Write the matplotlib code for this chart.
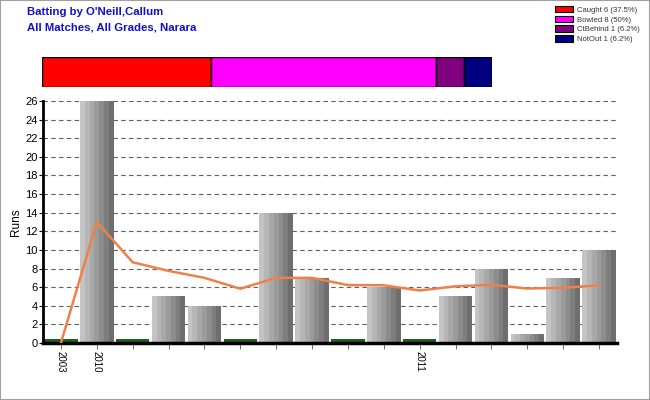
import matplotlib
matplotlib.use("Agg")
import matplotlib.pyplot as plt
from matplotlib.patches import Patch, Rectangle
import numpy as np

# ---- data ----
runs = [0, 26, 0, 5, 4, 0, 14, 7, 0, 6, 0, 5, 8, 1, 7, 10]
average = [0, 13, 8.67, 7.75, 7.0, 5.83, 7.0, 7.0, 6.22, 6.2, 5.64, 6.09, 6.25, 5.85, 5.93, 6.2]
tick_labels = ["2003", "2010", "", "", "", "", "", "", "", "", "2011", "", "", "", "", ""]
dismissal_names = ["Caught", "Bowled", "CtBehind", "NotOut"]
dismissal_counts = [6, 8, 1, 1]
dismissal_pct = ["37.5%", "50%", "6.2%", "6.2%"]
dismissal_colors = ["#ff0000", "#ff00ff", "#800080", "#000080"]

plt.rcParams['font.family'] = ['Liberation Sans', 'DejaVu Sans']

fig = plt.figure(figsize=(6.5, 4.0), dpi=100)
fig.patch.set_facecolor("white")
fig.patches.append(Rectangle((0, 0), 1, 1, transform=fig.transFigure, fill=False,
                             edgecolor="#a0a0a0", linewidth=1.5))

# titles
fig.text(27 / 650, 1 - 12 / 400, "Batting by O'Neill,Callum", color="#1010d0",
         fontsize=8.2, fontweight="bold", va="center", ha="left")
fig.text(27 / 650, 1 - 27 / 400, "All Matches, All Grades, Narara", color="#1010d0",
         fontsize=8.2, fontweight="bold", va="center", ha="left")

# stacked dismissal bar
axb = fig.add_axes([42 / 650, 1 - 87 / 400, 450 / 650, 30 / 400])
left = 0
for cnt, col in zip(dismissal_counts, dismissal_colors):
    axb.barh(0, cnt, left=left, height=1.0, color=col, edgecolor="black", linewidth=1)
    left += cnt
axb.set_xlim(0, sum(dismissal_counts))
axb.set_ylim(-0.5, 0.5)
axb.axis("off")

# legend
handles = [Patch(facecolor=c, edgecolor="black", linewidth=0.8,
                 label=f"{n} {k} ({p})")
           for n, k, p, c in zip(dismissal_names, dismissal_counts, dismissal_pct, dismissal_colors)]
fig.legend(handles=handles, loc="upper left", bbox_to_anchor=(552 / 650, 1 - 3 / 400),
           frameon=False, fontsize=5.5, handlelength=2.4, handleheight=0.9,
           labelspacing=0.25, handletextpad=0.5, borderaxespad=0, labelcolor="#333333")

# main axes
ax = fig.add_axes([43 / 650, 1 - 343 / 400, 574 / 650, 242 / 400])
x = np.arange(len(runs))
width = 0.93
stripes = ["#c4c4c4", "#b6b6b6", "#a8a8a8", "#9b9b9b", "#8d8d8d", "#7e7e7e", "#6e6e6e"]
sw = width / len(stripes)
vals = np.array(runs, dtype=float)
nz = vals > 0
for i, c in enumerate(stripes):
    off = -width / 2 + sw * (i + 0.5)
    ax.bar(x[nz] + off, vals[nz], width=sw * 1.02, color=c, linewidth=0, zorder=2)
ax.bar(x[~nz], np.full((~nz).sum(), 0.45), width=width, color="#1f5f1f", linewidth=0, zorder=2)

ax.plot(x, average, color="#f0804a", linewidth=1.8, zorder=3)

ax.set_xlim(-0.5, len(runs) - 0.5)
ax.set_ylim(0, 26)
ax.set_yticks(np.arange(0, 27, 2))
ax.set_xticks(x)
ax.set_xticklabels(tick_labels, rotation=-90, fontsize=7)
ax.tick_params(axis="y", labelsize=8, length=3, width=0.8, pad=1)
ax.tick_params(axis="x", length=4, width=0.6, color="#555555", pad=2)
ax.yaxis.grid(True, linestyle=(0, (4, 3)), color="#606060", linewidth=0.8, zorder=0)
ax.set_axisbelow(True)
for s in ["top", "right"]:
    ax.spines[s].set_visible(False)
ax.spines["left"].set_linewidth(2)
ax.spines["bottom"].set_linewidth(2.5)
ax.set_ylabel("Runs", fontsize=8.5, labelpad=2)

fig.savefig("out.png", dpi=100)
